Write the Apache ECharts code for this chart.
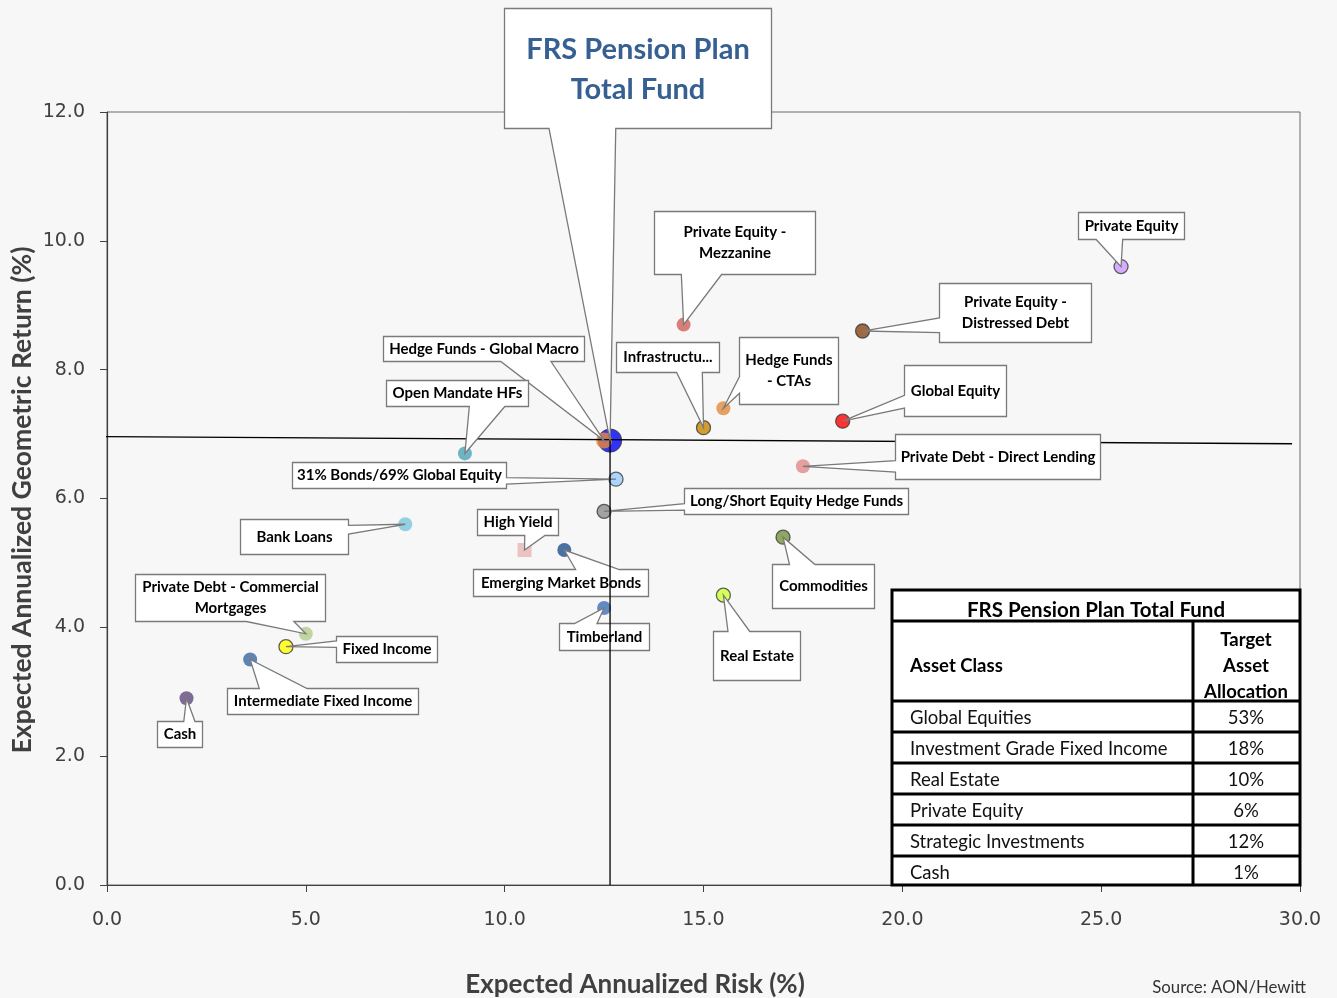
<!DOCTYPE html>
<html>
<head>
<meta charset="utf-8">
<script src="https://cdn.jsdelivr.net/npm/echarts@6/dist/echarts.min.js"></script>
<style>
  html, body { margin: 0; padding: 0; background: #f7f7f7; }
  #main { width: 1337px; height: 998px; }
</style>
</head>
<body>
<div id="main"></div>
<script>
// asset classes (label text as shown in the chart)
var assetLabels = [
  'FRS Pension Plan\nTotal Fund',
  'Hedge Funds - Global Macro',
  'Private Equity -\nMezzanine',
  'Private Equity',
  'Private Equity -\nDistressed Debt',
  'Open Mandate HFs',
  'Infrastructu...',
  'Hedge Funds\n- CTAs',
  'Global Equity',
  'Private Debt - Direct Lending',
  '31% Bonds/69% Global Equity',
  'Long/Short Equity Hedge Funds',
  'Bank Loans',
  'High Yield',
  'Emerging Market Bonds',
  'Commodities',
  'Private Debt - Commercial\nMortgages',
  'Fixed Income',
  'Timberland',
  'Real Estate',
  'Intermediate Fixed Income',
  'Cash'
];
// expected annualized risk (%)
var riskValues = [12.65, 12.5, 14.5, 25.5, 19.0, 9.0, 15.0, 15.5, 18.5, 17.5, 12.8,
                  12.5, 7.5, 10.5, 11.5, 17.0, 5.0, 4.5, 12.5, 15.5, 3.6, 2.0];
// expected annualized geometric return (%)
var returnValues = [6.9, 6.9, 8.7, 9.6, 8.6, 6.7, 7.1, 7.4, 7.2, 6.5, 6.3,
                    5.8, 5.6, 5.2, 5.2, 5.4, 3.9, 3.7, 4.3, 4.5, 3.5, 2.9];

// reference lines through the total fund
var refLineH = [[-2.69, 6.97], [29.8, 6.85]];
var refLineV = [[12.65, 6.9], [12.65, 0]];

// target asset allocation table
var tableClasses = ['Global Equities', 'Investment Grade Fixed Income', 'Real Estate',
                    'Private Equity', 'Strategic Investments', 'Cash'];
var tableAlloc = ['53%', '18%', '10%', '6%', '12%', '1%'];

var xTicks = [0, 5, 10, 15, 20, 25, 30];
var yTicks = [0, 2, 4, 6, 8, 10, 12];

// marker styles
var pointColors = ['#0000ff', '#e8883a', '#d0605a', '#cc99ff', '#8b4513', '#4aa3b8', '#cc8400',
                   '#e08a3c', '#ff0000', '#e08888', '#99ccff', '#8c8c8c', '#7cc4dc', '#e8b4b4',
                   '#1f4e8c', '#76923c', '#b3cc8c', '#ffff00', '#3d6fb5', '#ccff33', '#3a67a0', '#60497a'];
var pointBorder = [1, 0, 0, 1, 1, 0, 1, 0, 1, 0, 1, 1, 0, 0, 0, 1, 0, 1, 0, 1, 0, 0];

// callout boxes: [dx, dy, width, height] in px from the point
var calloutBoxes = [
  [-106, -433, 267, 120],
  [-221, -105, 201, 25],
  [-30, -114, 161, 63],
  [-43, -55, 106, 27],
  [76, -48, 152, 59],
  [-79, -73, 142, 26],
  [-88, -86, 103, 30],
  [16, -71, 99, 67],
  [61, -56, 102, 51],
  [92, -32, 205, 45],
  [-324, -17, 214, 26],
  [80, -23, 224, 26],
  [-165, -5, 108, 35],
  [-48, -41, 81, 26],
  [-91, 19, 175, 27],
  [-11, 27, 102, 44],
  [-171, -60, 190, 47],
  [50, -11, 101, 26],
  [-45, 15, 90, 27],
  [-10, 36, 87, 49],
  [-23, 28, 191, 26],
  [-30, 23, 45, 26]
];

var scatterData = [];
var calloutData = [];
for (let i = 0; i < riskValues.length; i++) {
  scatterData.push({
    value: [riskValues[i], returnValues[i]],
    symbol: i === 13 ? 'rect' : 'circle',
    symbolSize: i === 0 ? 23 : (i === 1 ? 16 : 14),
    itemStyle: {
      color: pointColors[i],
      borderColor: '#3a3a3a',
      borderWidth: pointBorder[i] ? 1.3 : 0
    }
  });
  calloutData.push([riskValues[i], returnValues[i], i]);
}

// Excel style rectangular callout with wedge
function renderCallout(params, api) {
  var i = api.value(2);
  var tip = api.coord([api.value(0), api.value(1)]);
  var b = calloutBoxes[i];
  var l = Math.round(tip[0] + b[0]) + 0.5, t = Math.round(tip[1] + b[1]) + 0.5;
  var w = b[2], h = b[3], r = l + w, bt = t + h;
  var dxPos = tip[0] - (l + w / 2);
  var dyPos = tip[1] - (t + h / 2);
  var dq = dxPos * h / w;
  var vertical = Math.abs(dyPos) - Math.abs(dq) > 0;
  var inside = tip[0] > l && tip[0] < r && tip[1] > t && tip[1] < bt;
  var x1 = l + w * (dxPos > 0 ? 7 : 2) / 12, x2 = l + w * (dxPos > 0 ? 10 : 5) / 12;
  var y1 = t + h * (dyPos > 0 ? 7 : 2) / 12, y2 = t + h * (dyPos > 0 ? 10 : 5) / 12;
  var p = [tip[0], tip[1]];
  var pts = [[l, t]];
  if (!inside && vertical && dyPos < 0) pts.push([x1, t], p, [x2, t]);
  pts.push([r, t]);
  if (!inside && !vertical && dxPos > 0) pts.push([r, y1], p, [r, y2]);
  pts.push([r, bt]);
  if (!inside && vertical && dyPos > 0) pts.push([x2, bt], p, [x1, bt]);
  pts.push([l, bt]);
  if (!inside && !vertical && dxPos < 0) pts.push([l, y2], p, [l, y1]);

  var isTitle = i === 0;
  return {
    type: 'group',
    children: [{
      type: 'polygon',
      shape: { points: pts },
      style: { fill: '#ffffff', stroke: '#7a7a7a', lineWidth: 1.3 }
    }, {
      type: 'text',
      style: {
        x: l + w / 2,
        y: t + h / 2 + (isTitle ? 1 : 0),
        text: assetLabels[i],
        align: 'center',
        verticalAlign: 'middle',
        fill: isTitle ? '#376092' : '#000000',
        font: isTitle ? 'bold 29px Lato' : 'bold 15px Lato',
        lineHeight: isTitle ? 40 : 21
      }
    }]
  };
}

// table drawn over the bottom right of the plot
var tL = 892, tR = 1300, tTop = 590, tBot = 885, tDiv = 1193;
var rowTops = [701, 732, 763, 794, 825, 856];
var tableEls = [
  { type: 'rect', shape: { x: tL, y: tTop, width: tR - tL, height: tBot - tTop },
    style: { fill: '#ffffff', stroke: '#000', lineWidth: 3 }, z: 20 },
  { type: 'line', shape: { x1: tL, y1: 621, x2: tR, y2: 621 }, style: { stroke: '#000', lineWidth: 3 }, z: 21 },
  { type: 'line', shape: { x1: tDiv, y1: 621, x2: tDiv, y2: tBot }, style: { stroke: '#000', lineWidth: 3 }, z: 21 },
  { type: 'text', x: (tL + tR) / 2, y: 610, z: 21,
    style: { text: 'FRS Pension Plan Total Fund', font: 'bold 20.5px Lato', fill: '#000', align: 'center', verticalAlign: 'middle' } },
  { type: 'text', x: 910, y: 666, z: 21,
    style: { text: 'Asset Class', font: 'bold 18.5px Lato', fill: '#000', align: 'left', verticalAlign: 'middle' } },
  { type: 'text', x: 1246, y: 666, z: 21,
    style: { text: 'Target\nAsset\nAllocation', font: 'bold 18.5px Lato', fill: '#000', align: 'center', verticalAlign: 'middle', lineHeight: 26 } }
];
for (let i = 0; i < tableClasses.length; i++) {
  var rowTop = rowTops[i];
  tableEls.push({ type: 'line', shape: { x1: tL, y1: rowTop, x2: tR, y2: rowTop }, style: { stroke: '#000', lineWidth: 3 }, z: 21 });
  tableEls.push({ type: 'text', x: 910, y: rowTop + 17, z: 21,
    style: { text: tableClasses[i], font: '18.5px Lato', fill: '#111', align: 'left', verticalAlign: 'middle' } });
  tableEls.push({ type: 'text', x: 1246, y: rowTop + 17, z: 21,
    style: { text: tableAlloc[i], font: '18.5px Lato', fill: '#111', align: 'center', verticalAlign: 'middle' } });
}

var axisFont = { fontFamily: 'DejaVu Sans', fontSize: 19, color: '#404040' };

var myChart = echarts.init(document.getElementById('main'), null, { renderer: 'canvas' });
var option = {
  animation: false,
  backgroundColor: '#f7f7f7',
  grid: {
    left: 107, right: 37, top: 112, bottom: 113,
    show: true, borderColor: '#6a6a6a', borderWidth: 1, backgroundColor: 'transparent'
  },
  xAxis: {
    type: 'value', min: xTicks[0], max: xTicks[xTicks.length - 1], interval: 5,
    axisLine: { show: true, onZero: false, lineStyle: { color: '#404040', width: 1.2 } },
    axisTick: { show: true, length: 7, lineStyle: { color: '#404040' } },
    splitLine: { show: false },
    axisLabel: Object.assign({ margin: 26, formatter: function (v) { return v.toFixed(1); } }, axisFont)
  },
  yAxis: {
    type: 'value', min: yTicks[0], max: yTicks[yTicks.length - 1], interval: 2,
    axisLine: { show: true, onZero: false, lineStyle: { color: '#404040', width: 1.2 } },
    axisTick: { show: true, length: 7, lineStyle: { color: '#404040' } },
    splitLine: { show: false },
    axisLabel: Object.assign({ margin: 22, formatter: function (v) { return v.toFixed(1); } }, axisFont)
  },
  series: [
    {
      type: 'scatter',
      z: 2,
      data: scatterData
    },
    {
      type: 'line',
      z: 3,
      clip: false,
      symbol: 'none',
      silent: true,
      lineStyle: { color: '#000', width: 1.3 },
      data: refLineH
    },
    {
      type: 'custom',
      z: 5,
      clip: false,
      renderItem: renderCallout,
      encode: { x: 0, y: 1 },
      data: calloutData
    },
    {
      type: 'line',
      z: 6,
      clip: false,
      symbol: 'none',
      silent: true,
      lineStyle: { color: '#000', width: 1.3 },
      data: refLineV
    }
  ],
  graphic: tableEls.concat([
    { type: 'text', x: 635, y: 985, z: 30,
      style: { text: 'Expected Annualized Risk (%)', font: 'bold 26px Lato', fill: '#404040', align: 'center', verticalAlign: 'middle' } },
    { type: 'text', x: 22, y: 500, rotation: Math.PI / 2, z: 30,
      style: { text: 'Expected Annualized Geometric Return (%)', font: 'bold 26.5px Lato', fill: '#404040', align: 'center', verticalAlign: 'middle' } },
    { type: 'text', x: 1306, y: 988, z: 30,
      style: { text: 'Source: AON/Hewitt', font: '16.8px Lato', fill: '#333', align: 'right', verticalAlign: 'middle' } }
  ])
};
myChart.setOption(option);
</script>
</body>
</html>
